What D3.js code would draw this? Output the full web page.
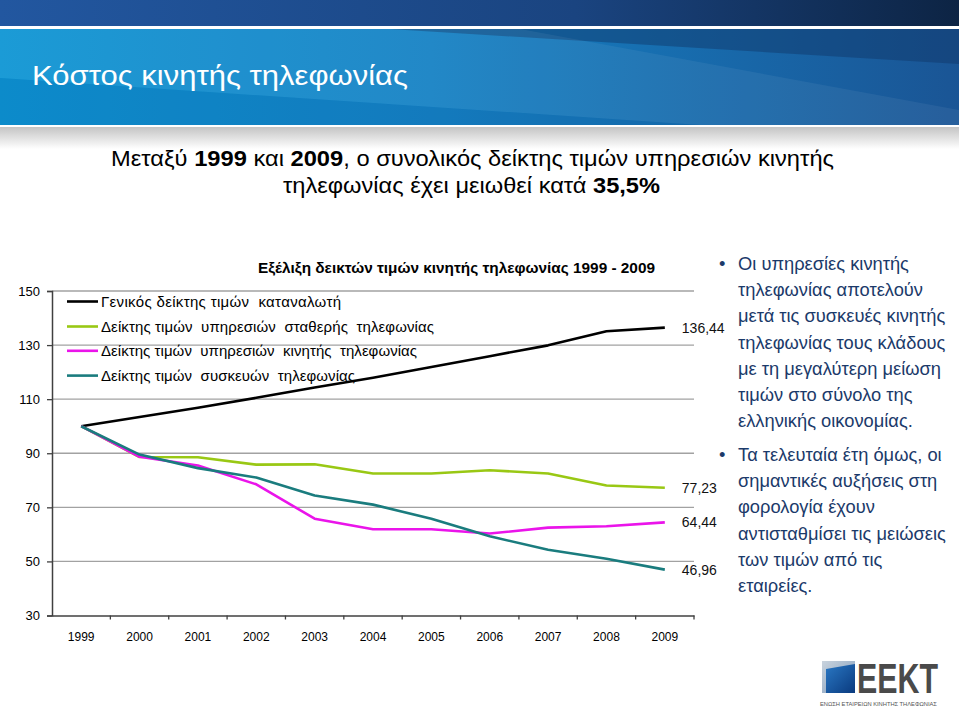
<!DOCTYPE html>
<html>
<head>
<meta charset="utf-8">
<script src="https://cdn.jsdelivr.net/npm/d3@7"></script>
<style>
  html, body { margin: 0; padding: 0; background: #fff; }
  svg { display: block; }
  text { font-family: "Liberation Sans", Arial, sans-serif; }
</style>
</head>
<body>
<svg id="chart" width="959" height="714"></svg>
<script>
// ---------- DATA ----------
const years = [1999, 2000, 2001, 2002, 2003, 2004, 2005, 2006, 2007, 2008, 2009];
const cpiIndex     = [100, 103.4, 106.8, 110.5, 114.3, 117.9, 121.9, 125.9, 129.9, 135.1, 136.44];
const fixedIndex   = [100, 88.6, 88.5, 85.8, 85.9, 82.5, 82.5, 83.7, 82.5, 78.1, 77.23];
const mobileIndex  = [100, 88.7, 85.5, 78.5, 65.8, 61.9, 61.9, 60.3, 62.5, 63.0, 64.44];
const deviceIndex  = [100, 89.5, 84.5, 81.0, 74.4, 71.0, 65.8, 59.3, 54.3, 51.0, 46.96];
const seriesNames = [
  "Γενικός δείκτης τιμών  καταναλωτή",
  "Δείκτης τιμών  υπηρεσιών  σταθερής  τηλεφωνίας",
  "Δείκτης τιμών  υπηρεσιών  κινητής  τηλεφωνίας",
  "Δείκτης τιμών  συσκευών  τηλεφωνίας"
];
const seriesColors = ["#000000", "#99c814", "#ea14ea", "#1a7c7e"];
const endLabels = ["136,44", "77,23", "64,44", "46,96"];
const yTicks = [30, 50, 70, 90, 110, 130, 150];
const gridTicks = [50, 70, 90, 110, 130, 150];

const pageTitle = "Κόστος κινητής τηλεφωνίας";
const subtitleLines = [
  "Μεταξύ 1999 και 2009, ο συνολικός δείκτης τιμών υπηρεσιών κινητής",
  "τηλεφωνίας έχει μειωθεί κατά 35,5%"
];
const chartTitle = "Εξέλιξη δεικτών τιμών κινητής τηλεφωνίας 1999 - 2009";
const bullet1 = ["Οι υπηρεσίες κινητής", "τηλεφωνίας αποτελούν", "μετά τις συσκευές κινητής",
  "τηλεφωνίας τους κλάδους", "με τη μεγαλύτερη μείωση", "τιμών στο σύνολο της", "ελληνικής οικονομίας."];
const bullet2 = ["Τα τελευταία έτη όμως, οι", "σημαντικές αυξήσεις στη", "φορολογία έχουν",
  "αντισταθμίσει τις μειώσεις", "των τιμών από τις", "εταιρείες."];
const logoText = "ΕΕΚΤ";
const logoSub = "ΕΝΩΣΗ ΕΤΑΙΡΕΙΩΝ ΚΙΝΗΤΗΣ ΤΗΛΕΦΩΝΙΑΣ";

const series = [cpiIndex, fixedIndex, mobileIndex, deviceIndex];

// ---------- SVG ----------
const svg = d3.select("#chart");
const defs = svg.append("defs");

function lin(id, stops, x2 = "100%", y2 = "0%") {
  const g = defs.append("linearGradient").attr("id", id)
    .attr("x1", "0%").attr("y1", "0%").attr("x2", x2).attr("y2", y2);
  stops.forEach(s => g.append("stop").attr("offset", s[0]).attr("stop-color", s[1]));
}
lin("gTop", [["0%", "#2257a0"], ["60%", "#1a4480"], ["100%", "#0d2444"]]);
lin("gMain", [["0%", "#0d95d4"], ["45%", "#1581c4"], ["100%", "#1a5595"]]);
lin("gShadow", [["0%", "#c4c4c4"], ["100%", "#ffffff"]], "0%", "100%");
lin("gLogo", [["0%", "#2a78c4"], ["100%", "#0a3a7e"]], "100%", "100%");
lin("gLogoBg", [["0%", "#c9d3dd"], ["100%", "#7f9bbb"]], "100%", "100%");

// ---------- HEADER ----------
svg.append("rect").attr("x", 0).attr("y", 0).attr("width", 959).attr("height", 26).attr("fill", "url(#gTop)");
svg.append("rect").attr("x", 0).attr("y", 29).attr("width", 959).attr("height", 96).attr("fill", "url(#gMain)");
svg.append("polygon").attr("points", "390,29 959,29 959,64").attr("fill", "#0f3566").attr("opacity", 0.45);
svg.append("polygon").attr("points", "0,29 520,29 959,110 959,125 700,125 0,78").attr("fill", "#ffffff").attr("opacity", 0.06);
svg.append("polygon").attr("points", "0,78 700,125 0,125").attr("fill", "#0b5fa0").attr("opacity", 0.18);
svg.append("rect").attr("x", 0).attr("y", 127).attr("width", 959).attr("height", 22).attr("fill", "url(#gShadow)");

function fitText(sel, w, adj = "spacingAndGlyphs") {
  sel.attr("textLength", w).attr("lengthAdjust", adj);
  return sel;
}
function scaleText(sel, x0, y0, w) {
  sel.attr("x", 0).attr("y", 0);
  const nat = sel.node().getComputedTextLength();
  sel.attr("transform", `translate(${x0},${y0}) scale(${w / nat},1)`);
  return sel;
}

fitText(svg.append("text").attr("x", 32).attr("y", 85).attr("fill", "#ffffff")
  .attr("font-size", 28).text(pageTitle), 376);

// subtitle with bold numbers
const subX = [111, 283], subY = [166, 193], subW = [723, 377];
subtitleLines.forEach((s, i) => {
  const t = svg.append("text").attr("x", subX[i]).attr("y", subY[i]).attr("fill", "#000").attr("font-size", 21.5);
  s.split(/(\d+(?:,\d+)?%?)/).filter(p => p.length).forEach(p => {
    t.append("tspan").attr("font-weight", /^\d/.test(p) ? "bold" : "normal").text(p);
  });
  fitText(t, subW[i], "spacingAndGlyphs");
});

// ---------- CHART ----------
const x = d3.scaleBand().domain(years).range([52, 694]).padding(0);
const y = d3.scaleLinear().domain([30, 150]).range([615.5, 291]);
const cx = d => x(d) + x.bandwidth() / 2;

svg.append("g").selectAll("line").data(gridTicks).join("line")
  .attr("x1", 52).attr("x2", 694)
  .attr("y1", d => y(d)).attr("y2", d => y(d))
  .attr("stroke", "#a2a2a2").attr("stroke-width", 1.3);

const yAxis = svg.append("g").attr("transform", "translate(52,0)")
  .call(d3.axisLeft(y).tickValues(yTicks).tickSize(5).tickPadding(7).tickFormat(d3.format("d")));
yAxis.select(".domain").attr("stroke", "#404040").attr("stroke-width", 1.5);
yAxis.selectAll(".tick line").attr("stroke", "#404040").attr("stroke-width", 1.3);
yAxis.selectAll(".tick text").attr("font-size", 13).attr("fill", "#000")
  .attr("font-family", "'Liberation Sans', Arial, sans-serif");

const xAxis = svg.append("g").attr("transform", `translate(0,${y(30)})`)
  .call(d3.axisBottom(x).tickSize(0).tickPadding(17));
xAxis.select(".domain").attr("stroke", "#404040").attr("stroke-width", 1.5);
xAxis.selectAll(".tick text").attr("font-size", 12).attr("fill", "#000")
  .attr("font-family", "'Liberation Sans', Arial, sans-serif");
xAxis.append("g").selectAll("line").data(years.slice(1).concat(["end"])).join("line")
  .attr("x1", d => d === "end" ? x.range()[1] : x(d))
  .attr("x2", d => d === "end" ? x.range()[1] : x(d))
  .attr("y1", 0).attr("y2", 4).attr("stroke", "#404040").attr("stroke-width", 1.3);

const line = d3.line().x((d, i) => cx(years[i])).y(d => y(d));
svg.append("g").selectAll("path").data(series).join("path")
  .attr("d", d => line(d))
  .attr("fill", "none")
  .attr("stroke", (d, i) => seriesColors[i])
  .attr("stroke-width", 2.6)
  .attr("stroke-linejoin", "round");

svg.append("g").selectAll("text").data(series).join("text")
  .attr("x", cx(2009) + 17)
  .attr("y", d => y(d[d.length - 1]))
  .attr("dy", "0.36em")
  .attr("font-size", 14)
  .attr("fill", "#111")
  .text((d, i) => endLabels[i]);

fitText(svg.append("text").attr("x", 258).attr("y", 273).attr("font-size", 15.5)
  .attr("font-weight", "bold").attr("fill", "#000").text(chartTitle), 397);

const legendY = [301.5, 326.5, 350.8, 375.6];
const legendW = [240, 333, 316, 254];
const lg = svg.append("g");
seriesNames.forEach((name, i) => {
  lg.append("line").attr("x1", 67).attr("x2", 98).attr("y1", legendY[i]).attr("y2", legendY[i])
    .attr("stroke", seriesColors[i]).attr("stroke-width", 2.6);
  fitText(lg.append("text").attr("x", 101).attr("y", legendY[i] + 5.5).attr("font-size", 15)
    .attr("fill", "#000").attr("xml:space", "preserve").text(name), legendW[i], "spacing");
});

// ---------- RIGHT TEXT ----------
const rt = svg.append("g").attr("fill", "#1b3a6a");
const probe = rt.append("text").attr("font-size", 17).text(bullet2[3]);
const w = probe.node().getComputedTextLength();
probe.remove();
const fs = 17 * 208 / w;
function para(lines, startY) {
  rt.append("text").attr("x", 719).attr("y", startY + 5).attr("font-size", fs).text("•");
  lines.forEach((l, i) => {
    rt.append("text").attr("x", 738).attr("y", startY + 5 + i * 26.2).attr("font-size", fs).text(l);
  });
}
para(bullet1, 265);
para(bullet2, 456);

// ---------- LOGO ----------
const logo = svg.append("g");
logo.append("rect").attr("x", 822).attr("y", 661).attr("width", 33).attr("height", 32).attr("fill", "url(#gLogoBg)");
logo.append("polygon").attr("points", "826,669 855,664 855,693 826,693").attr("fill", "url(#gLogo)");
scaleText(logo.append("text").attr("font-size", 43).attr("font-weight", "bold")
  .attr("fill", "#4a4a4a").text(logoText), 857, 692.5, 81);
scaleText(logo.append("text").attr("font-size", 5.2)
  .attr("fill", "#555").text(logoSub), 820, 706, 117);
</script>
</body>
</html>
